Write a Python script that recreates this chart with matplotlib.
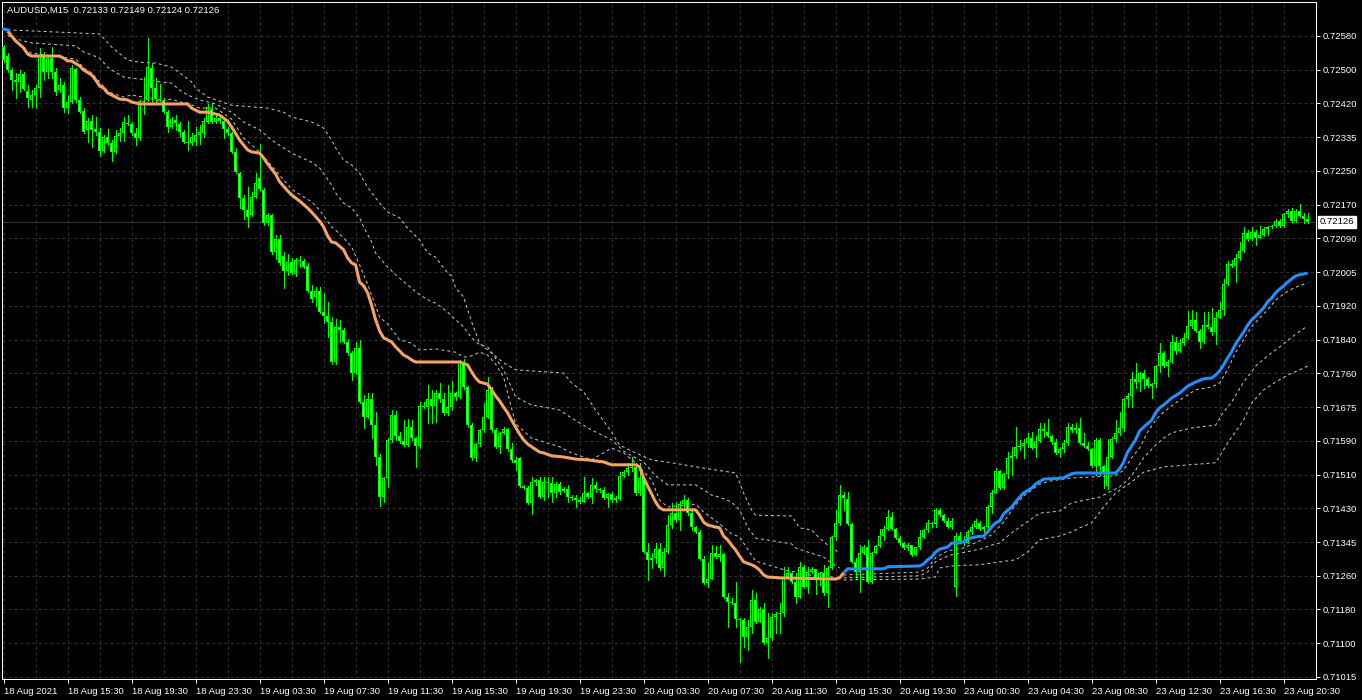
import numpy as np
import matplotlib
matplotlib.use("Agg")
import matplotlib.pyplot as plt
from matplotlib.transforms import blended_transform_factory

plt.rcParams["font.family"] = ["Liberation Sans", "DejaVu Sans"]

symbol = "AUDUSD,M15"

# prices in points (1e-5), one value per M15 bar, 18 Aug 11:30 .. 23 Aug 22:00
opens = [
    72553, 72531, 72497, 72473, 72468, 72487, 72446, 72424, 72436, 72453,
    72531, 72492, 72526, 72492, 72448, 72460, 72404, 72419, 72499, 72424,
    72397, 72351, 72372, 72353, 72346, 72299, 72333, 72319, 72297, 72336,
    72343, 72368, 72365, 72343, 72331, 72421, 72424, 72502, 72453, 72426,
    72421, 72394, 72358, 72375, 72365, 72346, 72321, 72319, 72321, 72338,
    72343, 72370, 72402, 72370, 72380, 72372, 72353, 72343, 72297, 72246,
    72184, 72155, 72143, 72187, 72233, 72204, 72123, 72143, 72053, 72084,
    72043, 72006, 72028, 71999, 72033, 72031, 72018, 71957, 71943, 71957,
    71906, 71896, 71882, 71784, 71870, 71862, 71833, 71806, 71757, 71818,
    71686, 71650, 71694, 71630, 71552, 71454, 71501, 71594, 71655, 71603,
    71591, 71581, 71625, 71598, 71579, 71677, 71674, 71694, 71677, 71708,
    71694, 71660, 71674, 71708, 71699, 71784, 71723, 71630, 71550, 71584,
    71618, 71650, 71716, 71618, 71577, 71611, 71620, 71572, 71545, 71550,
    71481, 71476, 71440, 71491, 71496, 71454, 71491, 71489, 71464, 71486,
    71469, 71474, 71454, 71452, 71447, 71442, 71464, 71454, 71484, 71474,
    71472, 71452, 71462, 71447, 71450, 71506, 71515, 71525, 71528, 71464,
    71501, 71320, 71301, 71306, 71327, 71281, 71320, 71386, 71415, 71398,
    71437, 71447, 71415, 71381, 71369, 71303, 71245, 71254, 71318, 71308,
    71315, 71210, 71198, 71196, 71157, 71154, 71113, 71137, 71203, 71149,
    71181, 71098, 71110, 71162, 71169, 71171, 71259, 71269, 71247, 71210,
    71284, 71235, 71271, 71279, 71252, 71269, 71220, 71281, 71357, 71391,
    71459, 71450, 71389, 71296, 71271, 71318, 71332, 71247, 71318, 71335,
    71359, 71376, 71406, 71376, 71354, 71342, 71330, 71337, 71313, 71332,
    71357, 71374, 71391, 71389, 71423, 71410, 71396, 71381, 71235, 71359,
    71347, 71342, 71369, 71381, 71391, 71376, 71381, 71430, 71464, 71518,
    71476, 71511, 71550, 71555, 71577, 71579, 71586, 71598, 71574, 71591,
    71620, 71613, 71603, 71589, 71562, 71572, 71586, 71625, 71618, 71623,
    71586, 71579, 71572, 71530, 71594, 71530, 71481, 71552, 71596, 71611,
    71623, 71694, 71701, 71743, 71735, 71757, 71743, 71725, 71730, 71774,
    71806, 71774, 71784, 71833, 71811, 71830, 71843, 71872, 71887, 71860,
    71833, 71874, 71870, 71857, 71891, 71911, 71974, 72023, 72018, 72038,
    72055, 72099, 72084, 72101, 72087, 72094, 72109, 72114, 72115, 72128,
    72116, 72145, 72153, 72128, 72153, 72141, 72133,
]
highs = [
    72558, 72538, 72502, 72490, 72497, 72492, 72460, 72448, 72460, 72551,
    72541, 72534, 72553, 72502, 72477, 72468, 72436, 72509, 72502, 72431,
    72404, 72380, 72387, 72382, 72355, 72338, 72353, 72326, 72351, 72355,
    72382, 72387, 72370, 72355, 72424, 72480, 72575, 72514, 72477, 72463,
    72429, 72399, 72382, 72387, 72370, 72351, 72372, 72343, 72358, 72363,
    72380, 72414, 72414, 72387, 72390, 72375, 72358, 72346, 72307, 72248,
    72192, 72211, 72199, 72246, 72316, 72209, 72148, 72145, 72094, 72094,
    72053, 72048, 72038, 72038, 72043, 72036, 72026, 71972, 71967, 71967,
    71953, 71931, 71894, 71889, 71887, 71867, 71840, 71811, 71833, 71838,
    71703, 71708, 71708, 71662, 71559, 71503, 71598, 71667, 71664, 71613,
    71642, 71645, 71642, 71601, 71686, 71686, 71728, 71716, 71716, 71733,
    71708, 71728, 71738, 71711, 71789, 71791, 71725, 71635, 71586, 71620,
    71684, 71747, 71723, 71623, 71613, 71625, 71623, 71586, 71552, 71552,
    71484, 71481, 71503, 71498, 71503, 71503, 71503, 71503, 71491, 71491,
    71479, 71484, 71459, 71459, 71454, 71503, 71467, 71501, 71491, 71476,
    71479, 71464, 71467, 71457, 71515, 71520, 71538, 71552, 71538, 71538,
    71503, 71342, 71318, 71342, 71342, 71330, 71410, 71440, 71442, 71445,
    71459, 71452, 71423, 71384, 71374, 71310, 71296, 71337, 71335, 71337,
    71318, 71220, 71208, 71247, 71159, 71159, 71154, 71227, 71220, 71186,
    71196, 71171, 71171, 71174, 71196, 71284, 71284, 71271, 71269, 71296,
    71289, 71284, 71284, 71279, 71271, 71289, 71286, 71359, 71423, 71484,
    71467, 71467, 71391, 71306, 71337, 71337, 71350, 71320, 71337, 71376,
    71384, 71423, 71418, 71379, 71359, 71345, 71342, 71337, 71332, 71374,
    71376, 71398, 71393, 71428, 71428, 71413, 71403, 71403, 71367, 71369,
    71359, 71374, 71389, 71401, 71396, 71384, 71435, 71472, 71525, 71520,
    71513, 71564, 71577, 71625, 71594, 71596, 71611, 71613, 71603, 71635,
    71635, 71645, 71606, 71596, 71577, 71594, 71635, 71633, 71635, 71647,
    71611, 71589, 71574, 71598, 71598, 71533, 71596, 71601, 71642, 71662,
    71696, 71708, 71760, 71782, 71760, 71765, 71747, 71733, 71777, 71830,
    71811, 71789, 71850, 71845, 71840, 71855, 71909, 71911, 71906, 71865,
    71906, 71906, 71916, 71906, 71931, 71987, 72031, 72033, 72048, 72077,
    72114, 72106, 72114, 72106, 72116, 72114, 72116, 72119, 72133, 72133,
    72148, 72158, 72160, 72158, 72170, 72148, 72149,
]
lows = [
    72517, 72492, 72448, 72429, 72443, 72448, 72407, 72407, 72404, 72431,
    72473, 72477, 72477, 72436, 72443, 72394, 72392, 72416, 72419, 72392,
    72343, 72321, 72309, 72338, 72287, 72297, 72314, 72275, 72294, 72324,
    72324, 72363, 72338, 72314, 72326, 72390, 72421, 72416, 72419, 72421,
    72392, 72346, 72355, 72351, 72333, 72319, 72302, 72314, 72314, 72316,
    72333, 72368, 72368, 72368, 72368, 72331, 72338, 72294, 72246, 72160,
    72133, 72114, 72141, 72184, 72204, 72119, 72119, 72048, 72036, 72021,
    71965, 71997, 71999, 71994, 72016, 72014, 71955, 71931, 71921, 71904,
    71879, 71845, 71779, 71779, 71833, 71830, 71801, 71740, 71755, 71684,
    71623, 71647, 71598, 71533, 71432, 71442, 71479, 71589, 71594, 71586,
    71579, 71579, 71594, 71528, 71574, 71672, 71635, 71635, 71637, 71686,
    71655, 71655, 71667, 71691, 71696, 71718, 71625, 71545, 71542, 71579,
    71613, 71647, 71613, 71574, 71562, 71608, 71567, 71540, 71520, 71479,
    71474, 71437, 71413, 71484, 71452, 71447, 71454, 71442, 71454, 71462,
    71467, 71442, 71447, 71430, 71440, 71442, 71452, 71440, 71467, 71467,
    71450, 71430, 71442, 71442, 71447, 71503, 71508, 71518, 71459, 71459,
    71318, 71252, 71281, 71293, 71276, 71262, 71318, 71379, 71393, 71374,
    71428, 71410, 71374, 71367, 71301, 71242, 71235, 71254, 71306, 71298,
    71208, 71137, 71193, 71137, 71052, 71088, 71081, 71122, 71147, 71149,
    71096, 71061, 71105, 71122, 71122, 71164, 71254, 71245, 71196, 71208,
    71232, 71220, 71269, 71218, 71240, 71215, 71186, 71279, 71350, 71386,
    71423, 71386, 71293, 71257, 71223, 71315, 71245, 71245, 71318, 71332,
    71350, 71374, 71374, 71352, 71337, 71327, 71325, 71310, 71313, 71327,
    71354, 71369, 71381, 71381, 71408, 71393, 71379, 71376, 71213, 71345,
    71337, 71342, 71364, 71379, 71374, 71369, 71369, 71415, 71464, 71474,
    71474, 71501, 71508, 71550, 71569, 71550, 71577, 71572, 71552, 71589,
    71601, 71601, 71584, 71559, 71552, 71564, 71581, 71613, 71611, 71584,
    71577, 71569, 71528, 71508, 71508, 71476, 71474, 71550, 71589, 71606,
    71616, 71674, 71674, 71721, 71713, 71721, 71723, 71696, 71723, 71760,
    71772, 71750, 71782, 71804, 71809, 71826, 71840, 71867, 71857, 71818,
    71830, 71867, 71850, 71828, 71891, 71899, 71972, 72016, 71979, 72033,
    72053, 72080, 72082, 72070, 72087, 72092, 72094, 72111, 72114, 72114,
    72114, 72138, 72126, 72126, 72138, 72123, 72124,
]
closes = [
    72521, 72497, 72473, 72468, 72487, 72451, 72429, 72436, 72453, 72534,
    72492, 72526, 72492, 72443, 72460, 72404, 72419, 72502, 72424, 72394,
    72346, 72372, 72351, 72346, 72299, 72333, 72319, 72297, 72336, 72343,
    72370, 72365, 72343, 72331, 72421, 72419, 72504, 72453, 72426, 72424,
    72394, 72358, 72377, 72368, 72346, 72321, 72319, 72333, 72338, 72346,
    72372, 72407, 72370, 72380, 72372, 72353, 72343, 72297, 72248, 72184,
    72155, 72138, 72187, 72221, 72206, 72123, 72143, 72053, 72084, 72026,
    72006, 72028, 72001, 72033, 72031, 72016, 71957, 71938, 71957, 71906,
    71896, 71882, 71784, 71870, 71862, 71833, 71806, 71757, 71818, 71686,
    71650, 71694, 71630, 71552, 71454, 71501, 71594, 71655, 71603, 71591,
    71581, 71625, 71598, 71579, 71677, 71674, 71694, 71677, 71708, 71694,
    71660, 71674, 71708, 71699, 71784, 71723, 71630, 71550, 71584, 71618,
    71650, 71716, 71618, 71577, 71611, 71620, 71572, 71545, 71538, 71481,
    71476, 71440, 71491, 71496, 71454, 71491, 71489, 71464, 71486, 71467,
    71474, 71454, 71452, 71447, 71442, 71464, 71454, 71484, 71474, 71472,
    71452, 71462, 71447, 71452, 71506, 71515, 71525, 71528, 71464, 71501,
    71320, 71301, 71306, 71327, 71281, 71320, 71386, 71415, 71398, 71437,
    71447, 71415, 71381, 71369, 71303, 71245, 71254, 71318, 71308, 71315,
    71210, 71198, 71196, 71157, 71154, 71113, 71137, 71203, 71149, 71181,
    71098, 71110, 71162, 71169, 71171, 71259, 71269, 71247, 71210, 71284,
    71235, 71271, 71279, 71252, 71269, 71220, 71281, 71357, 71391, 71459,
    71452, 71389, 71296, 71271, 71318, 71332, 71247, 71318, 71335, 71359,
    71376, 71406, 71376, 71354, 71342, 71330, 71337, 71313, 71332, 71357,
    71374, 71391, 71389, 71423, 71410, 71396, 71381, 71396, 71359, 71347,
    71342, 71369, 71381, 71396, 71376, 71381, 71430, 71464, 71518, 71476,
    71511, 71550, 71555, 71577, 71579, 71586, 71598, 71574, 71591, 71620,
    71616, 71603, 71589, 71562, 71572, 71586, 71625, 71618, 71623, 71586,
    71579, 71572, 71530, 71594, 71530, 71511, 71552, 71596, 71611, 71623,
    71694, 71701, 71743, 71735, 71757, 71743, 71725, 71730, 71774, 71806,
    71774, 71784, 71833, 71811, 71830, 71843, 71872, 71887, 71860, 71833,
    71874, 71870, 71857, 71891, 71911, 71974, 72023, 72018, 72038, 72055,
    72099, 72084, 72101, 72087, 72094, 72109, 72114, 72115, 72128, 72116,
    72145, 72153, 72128, 72153, 72141, 72133, 72126,
]

# trend line (bar index, value in points), falling and rising parts
down_bars = [1, 2, 3, 5, 6, 7, 14, 15, 16, 17, 19, 20, 22, 23, 24, 25, 26, 28, 29, 31,
             32, 34, 46, 47, 49, 51, 52, 54, 56, 57, 59, 61, 62, 64, 65, 66, 67, 68, 69, 71,
             72, 74, 76, 77, 79, 80, 81, 82, 83, 85, 86, 87, 88, 89, 90, 91, 92, 93, 94, 95,
             97, 98, 99, 100, 101, 102, 103, 114, 116, 117, 118, 119, 121, 122, 123, 124, 125, 126, 127, 128,
             129, 130, 131, 132, 134, 135, 137, 140, 143, 146, 150, 152, 158, 159, 160, 161, 162, 163, 164, 165,
             173, 174, 175, 176, 178, 179, 180, 181, 182, 183, 184, 185, 187, 188, 189, 190, 191, 194, 208, 209,
             210]
down_vals = [72592, 72580, 72568, 72551, 72536, 72531, 72531, 72526, 72519, 72519, 72507, 72497, 72485, 72473, 72458, 72453, 72441, 72431, 72426, 72424,
             72419, 72414, 72414, 72404, 72394, 72394, 72392, 72387, 72372, 72358, 72326, 72302, 72297, 72294, 72282, 72268, 72255, 72243, 72224, 72202,
             72192, 72177, 72160, 72150, 72128, 72114, 72092, 72077, 72075, 72058, 72038, 72026, 72021, 71979, 71970, 71953, 71923, 71887, 71860, 71843,
             71833, 71821, 71811, 71801, 71796, 71789, 71784, 71784, 71777, 71760, 71745, 71735, 71730, 71716, 71701, 71689, 71674, 71660, 71642, 71625,
             71608, 71594, 71584, 71577, 71564, 71562, 71555, 71552, 71547, 71545, 71540, 71533, 71533, 71528, 71501, 71481, 71462, 71442, 71428, 71423,
             71423, 71410, 71393, 71386, 71381, 71379, 71359, 71350, 71337, 71325, 71310, 71296, 71289, 71284, 71276, 71264, 71259, 71257, 71254, 71257,
             71269]
up_bars = [0, 1, 210, 211, 220, 221, 229, 230, 231, 232, 233, 234, 236, 237, 239, 240, 241, 243, 245, 246,
           247, 248, 249, 250, 252, 254, 255, 257, 258, 260, 265, 267, 268, 278, 279, 280, 281, 282, 283, 284,
           285, 287, 288, 289, 290, 292, 294, 296, 298, 300, 302, 303, 304, 305, 306, 307, 308, 309, 310, 311,
           312, 313, 314, 315, 316, 317, 318, 319, 320, 321, 322, 323, 324, 325, 326]
up_vals = [72597, 72595, 71269, 71279, 71279, 71284, 71286, 71291, 71301, 71308, 71320, 71327, 71332, 71342, 71342, 71345, 71352, 71357, 71359, 71369,
           71381, 71391, 71396, 71413, 71430, 71454, 71464, 71476, 71486, 71498, 71501, 71511, 71513, 71513, 71523, 71540, 71564, 71579, 71594, 71616,
           71625, 71642, 71660, 71672, 71679, 71696, 71708, 71725, 71735, 71743, 71745, 71752, 71762, 71777, 71794, 71809, 71828, 71843, 71857, 71874,
           71887, 71896, 71906, 71916, 71931, 71940, 71953, 71962, 71970, 71979, 71987, 71994, 71997, 71999, 72001]

# dotted bands above the falling line
upper_near_bars = [5, 7, 18, 20, 22, 24, 26, 27, 30, 32, 36, 39, 42, 44, 46, 49, 53, 57, 60, 64,
                   67, 72, 77, 79, 82, 83, 85, 87, 89, 91, 94, 96, 99, 102, 104, 108, 111, 113, 115, 117,
                   119, 121, 123, 125, 128, 132, 139, 142, 147, 152, 155, 158, 162, 164, 166, 173, 175, 179, 182, 184,
                   186, 188, 197, 199, 202, 205, 207, 209]
upper_near_vals = [72548, 72538, 72524, 72502, 72490, 72468, 72446, 72441, 72431, 72436, 72429, 72421, 72426, 72419, 72416, 72404, 72404, 72377, 72331, 72297,
                   72263, 72206, 72175, 72155, 72114, 72106, 72087, 72065, 72021, 71974, 71894, 71877, 71838, 71830, 71813, 71816, 71811, 71808, 71796, 71799,
                   71808, 71801, 71779, 71747, 71633, 71598, 71577, 71562, 71545, 71574, 71562, 71538, 71496, 71447, 71430, 71437, 71418, 71389, 71364, 71357,
                   71327, 71298, 71271, 71276, 71262, 71271, 71259, 71257]
upper_mid_bars = [1, 2, 5, 7, 18, 20, 22, 24, 26, 27, 30, 32, 36, 39, 42, 44, 46, 49, 53, 57,
                  60, 64, 67, 72, 77, 79, 82, 83, 85, 87, 89, 90, 92, 93, 96, 98, 101, 104, 107, 108,
                  111, 113, 115, 117, 119, 121, 125, 128, 132, 139, 142, 147, 152, 155, 157, 160, 163, 166, 173, 175,
                  177, 179, 182, 184, 186, 188, 197, 198, 201, 205, 207, 209]
upper_mid_vals = [72582, 72575, 72568, 72563, 72556, 72541, 72534, 72526, 72504, 72497, 72480, 72477, 72473, 72468, 72465, 72448, 72436, 72424, 72414, 72394,
                  72370, 72351, 72326, 72294, 72272, 72258, 72216, 72197, 72172, 72160, 72136, 72114, 72077, 72050, 72016, 71997, 71972, 71948, 71931, 71928,
                  71906, 71887, 71870, 71843, 71826, 71821, 71765, 71699, 71679, 71667, 71647, 71618, 71594, 71567, 71555, 71540, 71506, 71484, 71484, 71472,
                  71459, 71454, 71442, 71423, 71381, 71354, 71340, 71330, 71320, 71308, 71293, 71281]
upper_far_bars = [1, 24, 25, 27, 31, 34, 38, 42, 44, 47, 48, 51, 57, 66, 70, 72, 77, 80, 82, 83,
                  85, 87, 89, 91, 94, 96, 99, 101, 104, 106, 108, 111, 112, 113, 115, 117, 119, 125, 128, 140,
                  142, 145, 148, 152, 154, 158, 162, 167, 175, 183, 184, 185, 187, 188, 197, 199, 202, 204, 206, 209]
upper_far_vals = [72595, 72585, 72575, 72553, 72521, 72516, 72514, 72504, 72490, 72468, 72453, 72431, 72411, 72404, 72394, 72382, 72370, 72355, 72326, 72307,
                  72277, 72265, 72245, 72211, 72172, 72150, 72136, 72111, 72082, 72050, 72040, 72001, 71994, 71965, 71943, 71882, 71830, 71782, 71765, 71757,
                  71733, 71711, 71667, 71613, 71581, 71562, 71545, 71538, 71525, 71513, 71489, 71464, 71423, 71410, 71408, 71379, 71374, 71354, 71337, 71318]

# dotted bands below the rising line
lower_near_bars = [210, 229, 231, 233, 236, 240, 244, 247, 250, 253, 255, 259, 262, 267, 278, 280, 282, 284, 286, 288,
                   290, 294, 298, 302, 304, 306, 308, 310, 312, 314, 316, 318, 320, 322, 324, 326]
lower_near_vals = [71264, 71271, 71281, 71306, 71323, 71330, 71347, 71362, 71393, 71435, 71457, 71486, 71494, 71501, 71506, 71520, 71550, 71574, 71613, 71642,
                   71662, 71691, 71716, 71723, 71733, 71765, 71808, 71838, 71870, 71891, 71911, 71935, 71950, 71962, 71970, 71977]
lower_mid_bars = [210, 229, 231, 233, 235, 237, 244, 247, 249, 252, 259, 264, 267, 274, 279, 281, 283, 285, 288, 290,
                  292, 297, 303, 305, 307, 310, 313, 316, 320, 323, 326]
lower_mid_vals = [71257, 71262, 71271, 71296, 71306, 71313, 71327, 71337, 71342, 71367, 71415, 71420, 71440, 71454, 71479, 71496, 71520, 71550, 71581, 71598,
                  71611, 71623, 71630, 71662, 71686, 71735, 71774, 71799, 71828, 71852, 71872]
lower_far_bars = [210, 229, 233, 234, 237, 244, 247, 249, 253, 256, 259, 264, 267, 269, 272, 275, 278, 282, 285, 290,
                  303, 306, 310, 312, 315, 318, 321, 324, 326]
lower_far_vals = [71252, 71254, 71259, 71281, 71286, 71289, 71293, 71296, 71301, 71320, 71350, 71359, 71369, 71379, 71391, 71430, 71464, 71491, 71515, 71528,
                  71538, 71586, 71642, 71684, 71716, 71735, 71752, 71765, 71774]

price_labels = ["0.72580", "0.72500", "0.72420", "0.72335", "0.72250", "0.72170", "0.72090",
                "0.72005", "0.71920", "0.71840", "0.71760", "0.71675", "0.71590", "0.71510",
                "0.71430", "0.71345", "0.71260", "0.71180", "0.71100", "0.71015"]
time_labels = ["18 Aug 2021", "18 Aug 15:30", "18 Aug 19:30", "18 Aug 23:30", "19 Aug 03:30",
               "19 Aug 07:30", "19 Aug 11:30", "19 Aug 15:30", "19 Aug 19:30", "19 Aug 23:30",
               "20 Aug 03:30", "20 Aug 07:30", "20 Aug 11:30", "20 Aug 15:30", "20 Aug 19:30",
               "23 Aug 00:30", "23 Aug 04:30", "23 Aug 08:30", "23 Aug 12:30", "23 Aug 16:30",
               "23 Aug 20:30"]

o = np.array(opens) / 1e5
h = np.array(highs) / 1e5
l = np.array(lows) / 1e5
c = np.array(closes) / 1e5
x = np.arange(len(c))

W, H = 1362, 700
fs = 6.8
green = "#00ff00"

fig = plt.figure(figsize=(W / 100, H / 100), dpi=100, facecolor="black")
ax = fig.add_axes([2 / W, 21 / H, 1314 / W, 677 / H], facecolor="black")

ax.set_xlim(-0.4, 328.1)
ax.set_ylim(0.71010, 0.72663)
px = (0.72663 - 0.71010) / 677  # one screen pixel in price units

# grid
ax.set_xticks(np.arange(0, 16 * len(time_labels), 16))
ax.set_xticklabels(time_labels)
ax.set_xticks(np.arange(8, 330, 16), minor=True)
ax.set_yticks(np.linspace(float(price_labels[0]), float(price_labels[-1]), len(price_labels)))
ax.set_yticklabels(price_labels)
ax.grid(True, which="both", color="#303030", lw=0.72, linestyle=(0, (3, 3)))
ax.set_axisbelow(True)

ax.yaxis.tick_right()
ax.tick_params(axis="y", colors="white", labelsize=fs, length=3, width=0.72, pad=2)
ax.tick_params(axis="x", which="major", colors="white", labelsize=fs, length=3, width=0.72, pad=2.5)
ax.tick_params(axis="x", which="minor", length=0)
for lbl in ax.get_xticklabels():
    lbl.set_ha("left")
for sp in ax.spines.values():
    sp.set_color("white")
    sp.set_linewidth(0.72)

# bid line
ax.axhline(c[-1], color="#383838", lw=0.72, zorder=1)

# dotted bands
band_style = dict(color="#c8c8c8", lw=0.72, linestyle=(0, (3, 3)), zorder=2)
for bx, bv in [(upper_near_bars, upper_near_vals), (upper_mid_bars, upper_mid_vals),
               (upper_far_bars, upper_far_vals), (lower_near_bars, lower_near_vals),
               (lower_mid_bars, lower_mid_vals), (lower_far_bars, lower_far_vals)]:
    ax.plot(bx, np.array(bv) / 1e5, **band_style)

# candles: wick, green body, then 1px black/white core
bull = c >= o
lo = np.minimum(o, c)
bh = np.abs(c - o)
ax.vlines(x, l, h, color=green, lw=0.72, zorder=3, antialiased=False)
ax.bar(x, np.maximum(bh, px), bottom=lo, width=0.75, color=green, linewidth=0,
       zorder=4, antialiased=False)
core = bh > 2 * px
ax.bar(x[core], bh[core] - 2 * px, bottom=lo[core] + px, width=0.25,
       color=np.where(bull[core], "black", "white"), linewidth=0, zorder=5,
       antialiased=False)

# trend line
ax.plot(down_bars, np.array(down_vals) / 1e5, color="#f4a460", lw=2.2, zorder=6,
        solid_capstyle="butt", solid_joinstyle="round")
ax.plot(up_bars[:2], np.array(up_vals[:2]) / 1e5, color="#1e90ff", lw=2.2, zorder=6)
ax.plot(up_bars[2:], np.array(up_vals[2:]) / 1e5, color="#1e90ff", lw=2.2, zorder=6,
        solid_capstyle="butt", solid_joinstyle="round")

# last price label
tr = blended_transform_factory(ax.transAxes, ax.transData)
ax.text(1.0 + 4 / 1314, c[-1], f"{c[-1]:.5f}", transform=tr, ha="left", va="center",
        color="black", fontsize=fs, zorder=10, clip_on=False,
        bbox=dict(facecolor="white", edgecolor="white", boxstyle="square,pad=0.2"))

fig.text(7 / W, 1 - 10 / H,
         f"{symbol}  {o[-1]:.5f} {h[-1]:.5f} {l[-1]:.5f} {c[-1]:.5f}",
         color="white", fontsize=fs, ha="left", va="center")

fig.savefig("out.png", dpi=100, facecolor="black")
